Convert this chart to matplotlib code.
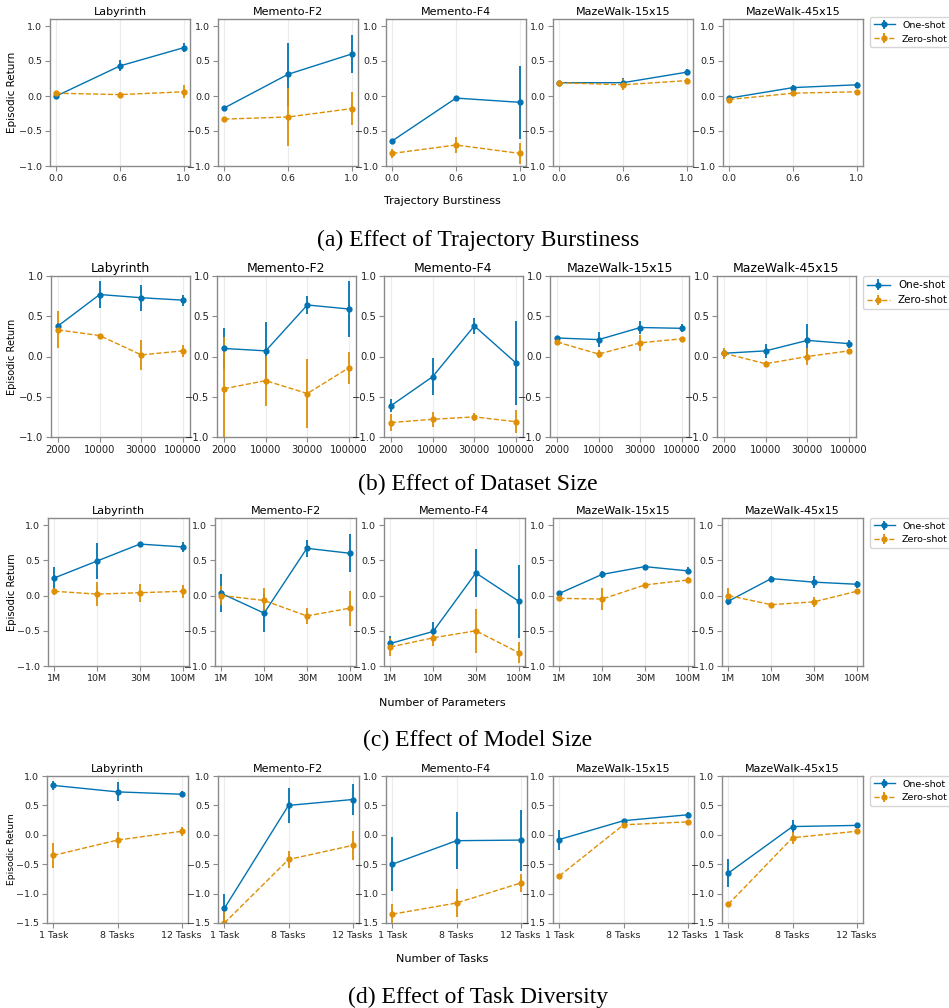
import matplotlib.pyplot as plt

# environments (one panel each)
envs = ["Labyrinth", "Memento-F2", "Memento-F4", "MazeWalk-15x15", "MazeWalk-45x15"]

# (a) trajectory burstiness
burst_ticks = ["0.0", "0.6", "1.0"]
burst_one = [[0.00, 0.43, 0.69], [-0.17, 0.31, 0.60], [-0.64, -0.03, -0.09],
             [0.19, 0.19, 0.34], [-0.03, 0.12, 0.16]]
burst_one_err = [[0.02, 0.08, 0.06], [0.02, 0.45, 0.27], [0.02, 0.03, 0.52],
                 [0.01, 0.07, 0.04], [0.01, 0.03, 0.04]]
burst_zero = [[0.04, 0.02, 0.06], [-0.33, -0.30, -0.18], [-0.82, -0.70, -0.82],
              [0.19, 0.16, 0.22], [-0.05, 0.04, 0.06]]
burst_zero_err = [[0.02, 0.04, 0.09], [0.03, 0.42, 0.24], [0.06, 0.11, 0.15],
                  [0.02, 0.08, 0.03], [0.02, 0.02, 0.02]]

# (b) dataset size
data_ticks = ["2000", "10000", "30000", "100000"]
data_one = [[0.38, 0.77, 0.73, 0.70], [0.10, 0.07, 0.64, 0.59], [-0.61, -0.25, 0.38, -0.08],
            [0.23, 0.21, 0.36, 0.35], [0.04, 0.07, 0.20, 0.16]]
data_one_err = [[0.03, 0.17, 0.16, 0.07], [0.25, 0.36, 0.11, 0.35], [0.08, 0.23, 0.10, 0.52],
                [0.03, 0.09, 0.08, 0.05], [0.03, 0.09, 0.20, 0.05]]
data_zero = [[0.33, 0.26, 0.02, 0.07], [-0.40, -0.30, -0.46, -0.14], [-0.82, -0.78, -0.75, -0.81],
             [0.18, 0.03, 0.17, 0.22], [0.04, -0.09, 0.00, 0.07]]
data_zero_err = [[0.23, 0.02, 0.19, 0.07], [0.64, 0.31, 0.43, 0.20], [0.10, 0.09, 0.05, 0.14],
                 [0.02, 0.05, 0.10, 0.02], [0.07, 0.04, 0.11, 0.02]]

# (c) model size
model_ticks = ["1M", "10M", "30M", "100M"]
model_one = [[0.25, 0.49, 0.73, 0.69], [0.03, -0.25, 0.67, 0.60], [-0.68, -0.51, 0.32, -0.08],
             [0.03, 0.30, 0.41, 0.35], [-0.08, 0.24, 0.19, 0.16]]
model_one_err = [[0.16, 0.25, 0.02, 0.07], [0.27, 0.27, 0.12, 0.27], [0.10, 0.13, 0.34, 0.52],
                 [0.02, 0.05, 0.02, 0.05], [0.06, 0.04, 0.09, 0.05]]
model_zero = [[0.06, 0.02, 0.04, 0.06], [0.00, -0.07, -0.29, -0.18], [-0.73, -0.60, -0.50, -0.81],
              [-0.04, -0.05, 0.15, 0.22], [0.00, -0.13, -0.09, 0.06]]
model_zero_err = [[0.05, 0.17, 0.13, 0.09], [0.13, 0.18, 0.12, 0.25], [0.13, 0.11, 0.31, 0.15],
                  [0.04, 0.15, 0.02, 0.04], [0.10, 0.02, 0.07, 0.02]]

# (d) task diversity
task_ticks = ["1 Task", "8 Tasks", "12 Tasks"]
task_one = [[0.84, 0.73, 0.69], [-1.25, 0.50, 0.60], [-0.50, -0.10, -0.09],
            [-0.08, 0.24, 0.34], [-0.65, 0.14, 0.16]]
task_one_err = [[0.08, 0.16, 0.05], [0.24, 0.30, 0.27], [0.46, 0.49, 0.52],
                [0.17, 0.02, 0.04], [0.24, 0.11, 0.04]]
task_zero = [[-0.35, -0.09, 0.06], [-1.50, -0.42, -0.18], [-1.35, -1.16, -0.82],
             [-0.70, 0.17, 0.22], [-1.18, -0.05, 0.06]]
task_zero_err = [[0.21, 0.14, 0.08], [0.20, 0.14, 0.25], [0.18, 0.23, 0.15],
                 [0.03, 0.02, 0.02], [0.02, 0.10, 0.02]]

BLUE = "#0173b2"
ORANGE = "#de8f05"
SPINE = "#8a8a8a"

W, H = 949, 1008
fig = plt.figure(figsize=(W / 100, H / 100), dpi=100)


def add_px_axes(left, top, width, bottom):
    return fig.add_axes([left / W, 1 - bottom / H, width / W, (bottom - top) / H])


def draw_row(ticks, one, one_err, zero, zero_err, lefts, width, top, bottom,
             ylim, yticks, xpad, fs_tick, fs_title, fs_leg, fs_ylab, leg_xy):
    for i, env in enumerate(envs):
        ax = add_px_axes(lefts[i], top, width, bottom)
        x = list(range(len(ticks)))
        ax.errorbar(x, one[i], yerr=one_err[i], color=BLUE, marker="o", ms=3.5,
                    lw=1.0, elinewidth=1.3, label="One-shot")
        ax.errorbar(x, zero[i], yerr=zero_err[i], color=ORANGE, marker="o", ms=3.5,
                    lw=1.0, ls="--", elinewidth=1.3, label="Zero-shot")
        ax.set_xticks(x)
        ax.set_xticklabels(ticks)
        ax.set_xlim(-xpad, len(ticks) - 1 + xpad)
        ax.set_ylim(*ylim)
        ax.set_yticks(yticks)
        ax.grid(axis="x", color="#ececec", lw=0.8)
        ax.set_axisbelow(True)
        ax.tick_params(labelsize=fs_tick, color=SPINE, length=3.5, width=0.8,
                       labelcolor="#222222", pad=2)
        for s in ax.spines.values():
            s.set_color(SPINE)
            s.set_linewidth(1.0)
        ax.set_title(env, fontsize=fs_title, pad=3)
        if i == 4:
            ax.legend(loc="upper left", bbox_to_anchor=(leg_xy[0] / W, 1 - leg_xy[1] / H),
                      bbox_transform=fig.transFigure, fontsize=fs_leg,
                      borderaxespad=0, handlelength=2.2)
    fig.text(12 / W, 1 - (top + bottom) / 2 / H, "Episodic Return", rotation=90,
             ha="center", va="center", fontsize=fs_ylab)


def caption(text, y):
    fig.text(478 / W, 1 - y / H, text, ha="center", va="center",
             fontsize=17, family="Liberation Serif")


def xlabel(text, y):
    fig.text(442 / W, 1 - y / H, text, ha="center", va="center", fontsize=8)


# (a)
draw_row(burst_ticks, burst_one, burst_one_err, burst_zero, burst_zero_err,
         [50, 218, 386, 553, 723], 140, 19, 166, (-1.0, 1.1),
         [-1.0, -0.5, 0.0, 0.5, 1.0], 0.1, 6.8, 8, 6.8, 7.5, (870, 17))
xlabel("Trajectory Burstiness", 201)
caption("(a) Effect of Trajectory Burstiness", 240)

# (b)
draw_row(data_ticks, data_one, data_one_err, data_zero, data_zero_err,
         [51, 217, 384, 550, 717], 139, 276, 437, (-1.0, 1.0),
         [-1.0, -0.5, 0.0, 0.5, 1.0], 0.17, 7.2, 9, 7.4, 7, (863, 276))
caption("(b) Effect of Dataset Size", 484)

# (c)
draw_row(model_ticks, model_one, model_one_err, model_zero, model_zero_err,
         [48, 215, 384, 553, 722], 141, 518, 666, (-1.0, 1.1),
         [-1.0, -0.5, 0.0, 0.5, 1.0], 0.15, 6.8, 8, 6.8, 7.2, (870, 518))
xlabel("Number of Parameters", 703)
caption("(c) Effect of Model Size", 740)

# (d)
draw_row(task_ticks, task_one, task_one_err, task_zero, task_zero_err,
         [47, 218, 386, 553, 722], 141, 776, 923, (-1.5, 1.0),
         [-1.5, -1.0, -0.5, 0.0, 0.5, 1.0], 0.1, 6.8, 8, 6.8, 6.6, (870, 776))
xlabel("Number of Tasks", 959)
caption("(d) Effect of Task Diversity", 997)

plt.savefig("out.png", dpi=100)
